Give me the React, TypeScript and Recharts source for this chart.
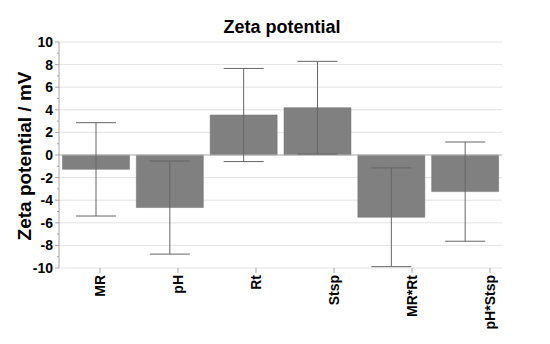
import {
  BarChart,
  Bar,
  XAxis,
  YAxis,
  CartesianGrid,
  ReferenceLine,
  ErrorBar,
} from "recharts";

const factors = ["MR", "pH", "Rt", "Stsp", "MR*Rt", "pH*Stsp"];
const zeta = [-1.27, -4.65, 3.54, 4.19, -5.51, -3.24];
const zetaErr = [4.13, 4.12, 4.12, 4.1, 4.37, 4.39];
const yTicks = [-10, -9, -8, -7, -6, -5, -4, -3, -2, -1, 0, 1, 2, 3, 4, 5, 6, 7, 8, 9, 10];
const yMajor = [-10, -8, -6, -4, -2, 0, 2, 4, 6, 8, 10];

const data = factors.map((f, i) => ({ factor: f, zeta: zeta[i], err: zetaErr[i] }));

const font = "'Liberation Sans', Arial, sans-serif";
const axisGrey = "#a6a6a6";

function YTick(props: any) {
  const { x, y, payload } = props;
  const major = yMajor.includes(payload.value);
  return (
    <g>
      <line
        x1={major ? x + 2 : x + 4}
        x2={x + 6}
        y1={y}
        y2={y}
        stroke={axisGrey}
      />
      {major && (
        <text
          x={x}
          y={y}
          dy="0.35em"
          textAnchor="end"
          fontFamily={font}
          fontWeight="bold"
          fontSize={14}
          fill="#000"
        >
          {payload.value}
        </text>
      )}
    </g>
  );
}

// category labels sit slightly to the right of the bars, as in the source figure
function XTick(props: any) {
  const { x, y, payload } = props;
  return (
    <g>
      <line x1={x} x2={x} y1={y - 5} y2={y} stroke={axisGrey} />
      <text
        x={x}
        y={y + 2}
        dy="0.35em"
        textAnchor="end"
        transform={`rotate(-90 ${x} ${y + 2})`}
        fontFamily={font}
        fontWeight="bold"
        fontSize={14}
        fill="#000"
      >
        {payload.value}
      </text>
    </g>
  );
}

export default function App() {
  return (
    <div style={{ position: "absolute", left: 0, top: 0, width: 550, height: 344, background: "#fff" }}>
      <div
        style={{
          position: "absolute",
          left: 59,
          top: 17,
          width: 446,
          textAlign: "center",
          fontFamily: font,
          fontWeight: "bold",
          fontSize: 18,
          lineHeight: "20px",
        }}
      >
        Zeta potential
      </div>
      <BarChart
        width={550}
        height={344}
        data={data}
        margin={{ top: 42, right: 48, bottom: 0, left: 0 }}
        barCategoryGap={3.5}
      >
        <CartesianGrid
          vertical={false}
          horizontalValues={yMajor}
          stroke="#e3e3e3"
        />
        <XAxis
          dataKey="factor"
          xAxisId="main"
          height={0}
          tick={false}
          tickLine={false}
          axisLine={{ stroke: axisGrey }}
        />
        <XAxis
          dataKey="factor"
          xAxisId="labels"
          height={76}
          interval={0}
          padding={{ left: 2, right: -27 }}
          axisLine={false}
          tickSize={5}
          tickMargin={0}
          tickLine={false}
          tick={<XTick />}
        />
        <XAxis
          dataKey="factor"
          xAxisId="top"
          orientation="top"
          height={0}
          tick={false}
          tickLine={false}
          axisLine={{ stroke: axisGrey }}
        />
        <YAxis
          width={59}
          domain={[-10, 10]}
          ticks={yTicks}
          interval={0}
          tickSize={6}
          tickMargin={0}
          tickLine={false}
          axisLine={{ stroke: axisGrey }}
          tick={<YTick />}
          label={{
            content: () => (
              <text
                x={24}
                y={156}
                dy="0.35em"
                textAnchor="middle"
                transform="rotate(-90 24 156)"
                fontFamily={font}
                fontWeight="bold"
                fontSize={19}
                fill="#000"
              >
                Zeta potential / mV
              </text>
            ),
          }}
        />
        <YAxis
          yAxisId="right"
          orientation="right"
          width={0}
          domain={[-10, 10]}
          tick={false}
          tickLine={false}
          axisLine={{ stroke: axisGrey }}
        />
        <ReferenceLine y={0} xAxisId="main" stroke="#b5b5b5" />
        <Bar
          dataKey="zeta"
          xAxisId="main"
          fill="#808080"
          stroke="#707070"
          strokeWidth={0.5}
          isAnimationActive={false}
        >
          <ErrorBar dataKey="err" width={20} stroke="#666" strokeWidth={1} direction="y" />
        </Bar>
      </BarChart>
    </div>
  );
}
